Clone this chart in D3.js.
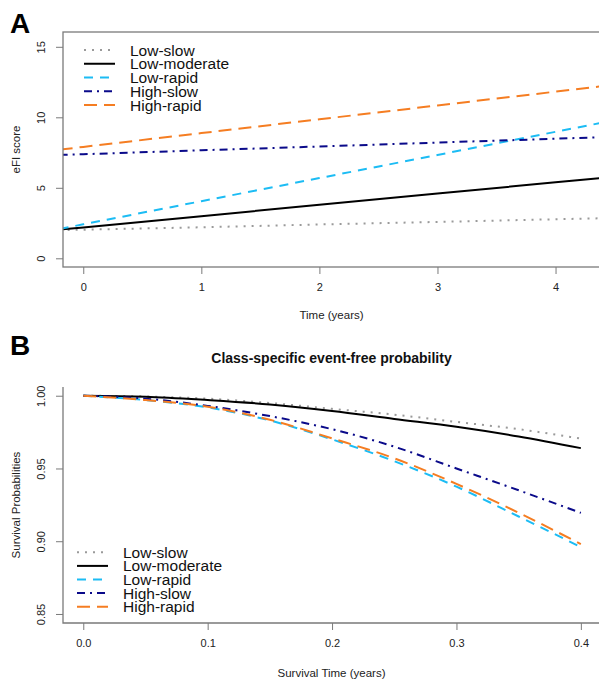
<!DOCTYPE html>
<html>
<head>
<meta charset="utf-8">
<script src="https://cdn.jsdelivr.net/npm/d3@7"></script>
<style>
  body { margin: 0; background: #fff; }
  text { font-family: "Liberation Sans", Arial, sans-serif; }
</style>
</head>
<body>
<script>
// ---- data ----
var classes = ["Low-slow", "Low-moderate", "Low-rapid", "High-slow", "High-rapid"];

// panel A: eFI score trajectories
var yearsA = [-0.2, 0, 1, 2, 3, 4, 4.5];
var efiLowSlow = [1.99, 2.03, 2.2, 2.4, 2.58, 2.77, 2.86];
var efiLowModerate = [2.03, 2.19, 2.99, 3.79, 4.59, 5.39, 5.79];
var efiLowRapid = [2.08, 2.41, 4.05, 5.69, 7.33, 8.97, 9.79];
var efiHighSlow = [7.33, 7.38, 7.66, 7.93, 8.21, 8.48, 8.62];
var efiHighRapid = [7.7, 7.9, 8.88, 9.86, 10.84, 11.82, 12.31];

// panel B: event-free probability
var yearsB = [0, 0.05, 0.1, 0.15, 0.2, 0.25, 0.3, 0.35, 0.4];
var survLowSlow = [1, 0.9995, 0.998, 0.995, 0.991, 0.987, 0.982, 0.977, 0.9705];
var survLowModerate = [1, 0.9993, 0.997, 0.994, 0.9895, 0.984, 0.9787, 0.972, 0.964];
var survLowRapid = [1, 0.997, 0.992, 0.983, 0.970, 0.955, 0.9375, 0.917, 0.896];
var survHighSlow = [1, 0.998, 0.993, 0.986, 0.977, 0.965, 0.950, 0.935, 0.9195];
var survHighRapid = [1, 0.997, 0.9925, 0.9835, 0.9707, 0.957, 0.9394, 0.9196, 0.898];

var ticksAx = [0, 1, 2, 3, 4];
var ticksAy = [0, 5, 10, 15];
var ticksBx = [0, 0.1, 0.2, 0.3, 0.4];
var ticksBy = [0.85, 0.90, 0.95, 1.00];

// ---- styles ----
var colors = ["#9a9a9a", "#000000", "#1cbcf4", "#0a0a8a", "#f57d22"];
var dashes = ["2,6", null, "9,7", "8,5,2,5", "13,7"];
var axisColor = "#7a7a7a";
var textColor = "#222";

var width = 599, height = 680;

var svg = d3.select("body").append("svg")
    .attr("width", width)
    .attr("height", height);

var defs = svg.append("defs");

function yAxisRotate(g, off) {
  g.selectAll(".tick text")
    .attr("transform", "rotate(-90)")
    .attr("x", 0)
    .attr("y", -off)
    .attr("dy", 0)
    .style("text-anchor", "middle");
}

function styleAxis(g) {
  g.select(".domain").remove();
  g.selectAll(".tick line").attr("stroke", axisColor).attr("stroke-width", 1);
  g.selectAll(".tick text").attr("fill", textColor).style("font-size", "11px");
}

function drawLegend(x0, y0, step) {
  var lg = svg.append("g");
  classes.forEach(function(c, i) {
    var y = y0 + i * step;
    lg.append("line")
      .attr("x1", x0).attr("x2", x0 + 31)
      .attr("y1", y).attr("y2", y)
      .attr("stroke", colors[i])
      .attr("stroke-width", 2)
      .attr("stroke-dasharray", dashes[i]);
    lg.append("text")
      .attr("x", x0 + 46).attr("y", y + 5.5)
      .attr("fill", "#111")
      .style("font-size", "15.5px")
      .text(c);
  });
}

// ================= panel A =================
var A = { left: 63, right: 601, top: 32, bottom: 267 };
var xA = d3.scaleLinear().domain([-0.1716, 4.385]).range([A.left, A.right]);
var yA = d3.scaleLinear().domain([-0.617, 16.05]).range([A.bottom, A.top]);

defs.append("clipPath").attr("id", "clipA").append("rect")
  .attr("x", A.left).attr("y", A.top)
  .attr("width", A.right - A.left).attr("height", A.bottom - A.top);

var seriesA = [efiLowSlow, efiLowModerate, efiLowRapid, efiHighSlow, efiHighRapid];
var lineA = d3.line()
  .x(function(d, i) { return xA(yearsA[i]); })
  .y(function(d) { return yA(d); });

svg.append("g").attr("clip-path", "url(#clipA)")
  .selectAll("path")
  .data(seriesA)
  .enter().append("path")
    .attr("d", lineA)
    .attr("fill", "none")
    .attr("stroke", function(d, i) { return colors[i]; })
    .attr("stroke-width", 2)
    .attr("stroke-dasharray", function(d, i) { return dashes[i]; });

svg.append("rect")
  .attr("x", A.left).attr("y", A.top)
  .attr("width", A.right - A.left).attr("height", A.bottom - A.top)
  .attr("fill", "none").attr("stroke", axisColor).attr("stroke-width", 1.3);

svg.append("g")
  .attr("transform", "translate(0," + A.bottom + ")")
  .call(d3.axisBottom(xA).tickValues(ticksAx).tickSize(7).tickPadding(9).tickFormat(d3.format("d")))
  .call(styleAxis);

svg.append("g")
  .attr("transform", "translate(" + A.left + ",0)")
  .call(d3.axisLeft(yA).tickValues(ticksAy).tickSize(7).tickFormat(d3.format("d")))
  .call(styleAxis)
  .call(yAxisRotate, 18);

svg.append("text")
  .attr("x", (A.left + 600) / 2).attr("y", 319)
  .attr("text-anchor", "middle").attr("fill", textColor)
  .style("font-size", "11.5px")
  .text("Time (years)");

svg.append("text")
  .attr("transform", "translate(20," + ((A.top + A.bottom) / 2) + ") rotate(-90)")
  .attr("text-anchor", "middle").attr("fill", textColor)
  .style("font-size", "11.5px")
  .text("eFI score");

svg.append("text")
  .attr("x", 10).attr("y", 33)
  .style("font-size", "28px").style("font-weight", "bold")
  .text("A");

drawLegend(84, 50, 13.75);

// ================= panel B =================
var B = { left: 63, right: 601, top: 387, bottom: 623 };
var xB = d3.scaleLinear().domain([-0.0163, 0.4162]).range([B.left, B.right]);
var yB = d3.scaleLinear().domain([0.8438, 1.006]).range([B.bottom, B.top]);

var seriesB = [survLowSlow, survLowModerate, survLowRapid, survHighSlow, survHighRapid];
var lineB = d3.line()
  .curve(d3.curveMonotoneX)
  .x(function(d, i) { return xB(yearsB[i]); })
  .y(function(d) { return yB(d); });

svg.append("g")
  .selectAll("path")
  .data(seriesB)
  .enter().append("path")
    .attr("d", lineB)
    .attr("fill", "none")
    .attr("stroke", function(d, i) { return colors[i]; })
    .attr("stroke-width", 2)
    .attr("stroke-dasharray", function(d, i) { return dashes[i]; });

svg.append("path")
  .attr("d", "M" + B.left + "," + B.top + "V" + B.bottom + "H" + B.right)
  .attr("fill", "none").attr("stroke", axisColor).attr("stroke-width", 1.3);

svg.append("g")
  .attr("transform", "translate(0," + B.bottom + ")")
  .call(d3.axisBottom(xB).tickValues(ticksBx).tickSize(7).tickPadding(9).tickFormat(d3.format(".1f")))
  .call(styleAxis);

svg.append("g")
  .attr("transform", "translate(" + B.left + ",0)")
  .call(d3.axisLeft(yB).tickValues(ticksBy).tickSize(7).tickFormat(d3.format(".2f")))
  .call(styleAxis)
  .call(yAxisRotate, 18);

svg.append("text")
  .attr("x", (B.left + 600) / 2).attr("y", 363)
  .attr("text-anchor", "middle").attr("fill", "#111")
  .style("font-size", "14px").style("font-weight", "bold")
  .text("Class-specific event-free probability");

svg.append("text")
  .attr("x", (B.left + 600) / 2).attr("y", 677)
  .attr("text-anchor", "middle").attr("fill", textColor)
  .style("font-size", "11.5px")
  .text("Survival Time (years)");

svg.append("text")
  .attr("transform", "translate(20," + ((B.top + B.bottom) / 2) + ") rotate(-90)")
  .attr("text-anchor", "middle").attr("fill", textColor)
  .style("font-size", "11.5px")
  .text("Survival Probabilities");

svg.append("text")
  .attr("x", 10).attr("y", 355)
  .style("font-size", "28px").style("font-weight", "bold")
  .text("B");

drawLegend(77, 552.3, 13.6);
</script>
</body>
</html>
